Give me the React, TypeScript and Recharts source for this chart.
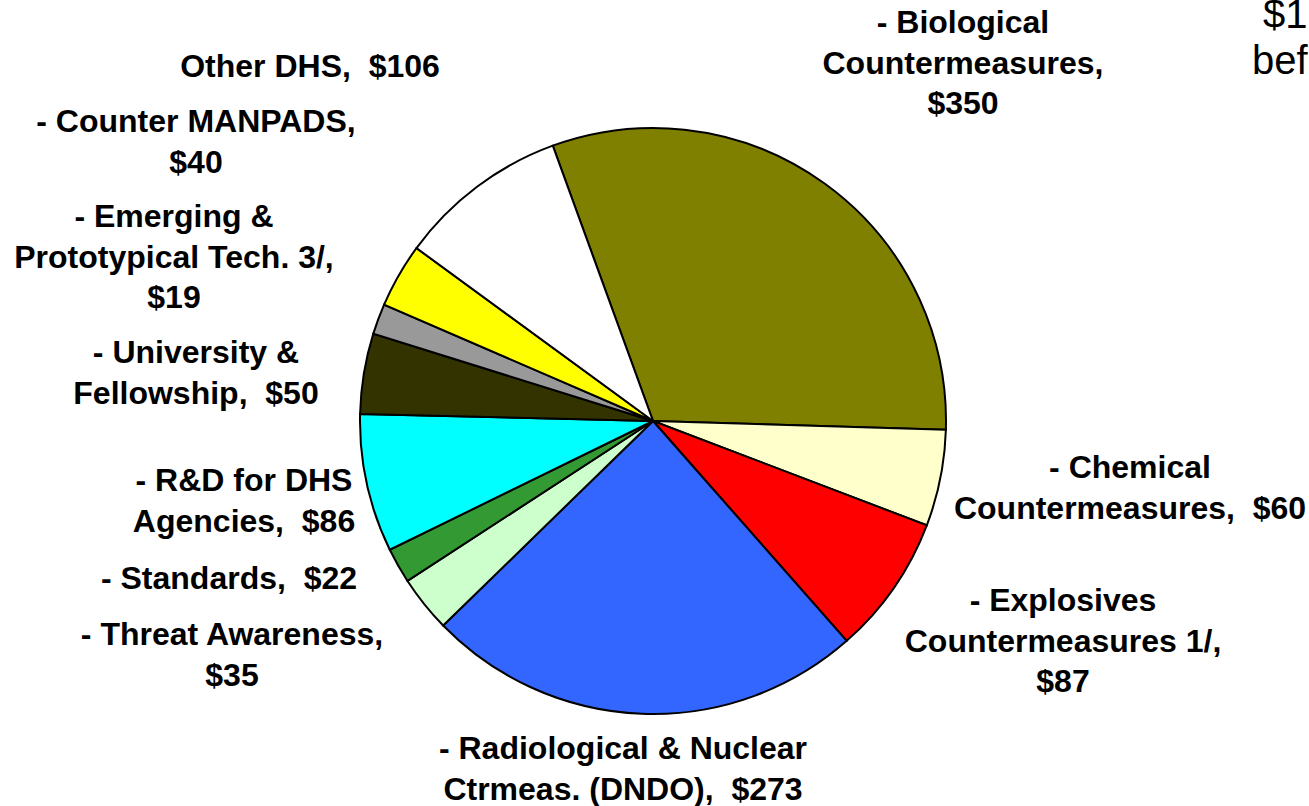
import { Cell, Pie, PieChart } from "recharts";

const categories = [
  "Biological Countermeasures",
  "Chemical Countermeasures",
  "Explosives Countermeasures 1/",
  "Radiological & Nuclear Ctrmeas. (DNDO)",
  "Threat Awareness",
  "Standards",
  "R&D for DHS Agencies",
  "University & Fellowship",
  "Emerging & Prototypical Tech. 3/",
  "Counter MANPADS",
  "Other DHS",
];
const amounts = [350, 60, 87, 273, 35, 22, 86, 50, 19, 40, 106];
const labelText = [
  ["- Biological", "Countermeasures,", "$350"],
  ["- Chemical", "Countermeasures,  $60"],
  ["- Explosives", "Countermeasures 1/,", "$87"],
  ["- Radiological & Nuclear", "Ctrmeas. (DNDO),  $273"],
  ["- Threat Awareness,", "$35"],
  ["- Standards,  $22"],
  ["- R&D for DHS", "Agencies,  $86"],
  ["- University &", "Fellowship,  $50"],
  ["- Emerging &", "Prototypical Tech. 3/,", "$19"],
  ["- Counter MANPADS,", "$40"],
  ["Other DHS,  $106"],
];
const sideNote = ["$1", "bef"];

const colors = [
  "#808000",
  "#FFFFCC",
  "#FF0000",
  "#3366FF",
  "#CCFFCC",
  "#339933",
  "#00FFFF",
  "#333300",
  "#999999",
  "#FFFF00",
  "#FFFFFF",
];

// where each label block sits (centre x, first line centre y)
const labelPos = [
  { x: 963, y: 22 },
  { x: 1130, y: 467 },
  { x: 1063, y: 600 },
  { x: 623, y: 748 },
  { x: 232, y: 634 },
  { x: 229, y: 578 },
  { x: 244, y: 480 },
  { x: 196, y: 352 },
  { x: 174, y: 216 },
  { x: 196, y: 121 },
  { x: 310, y: 66 },
];

const data = categories.map((name, i) => ({ name, value: amounts[i] }));

const FONT = "'Liberation Sans', Arial, sans-serif";
const LINE = 40.5;

function renderLabel(props: any) {
  const i = props.index;
  const pos = labelPos[i];
  return (
    <text
      key={`lbl-${i}`}
      x={pos.x}
      y={pos.y}
      textAnchor="middle"
      fontFamily={FONT}
      fontWeight="bold"
      fontSize={32}
      fill="#000"
      xmlSpace="preserve"
      style={{ whiteSpace: "pre" }}
    >
      {labelText[i].map((line, j) => (
        <tspan key={j} x={pos.x} y={pos.y + j * LINE + 11}>
          {line}
        </tspan>
      ))}
    </text>
  );
}

export default function App() {
  return (
    <div
      style={{
        position: "absolute",
        left: 0,
        top: 0,
        width: 1309,
        height: 806,
        overflow: "hidden",
        background: "#fff",
      }}
    >
      <PieChart width={1309} height={806} margin={{ top: 0, right: 0, bottom: 0, left: 0 }}>
        <Pie
          data={data}
          dataKey="value"
          nameKey="name"
          cx={653}
          cy={421}
          outerRadius={293}
          startAngle={110}
          endAngle={-250}
          stroke="#000"
          strokeWidth={2}
          label={renderLabel}
          labelLine={false}
          isAnimationActive={false}
        >
          {data.map((d, i) => (
            <Cell key={d.name} fill={colors[i]} />
          ))}
        </Pie>
        <text x={1263} y={28} fontFamily={FONT} fontSize={40} fill="#000">
          {sideNote[0]}
        </text>
        <text x={1252} y={74} fontFamily={FONT} fontSize={40} fill="#000">
          {sideNote[1]}
        </text>
      </PieChart>
    </div>
  );
}
